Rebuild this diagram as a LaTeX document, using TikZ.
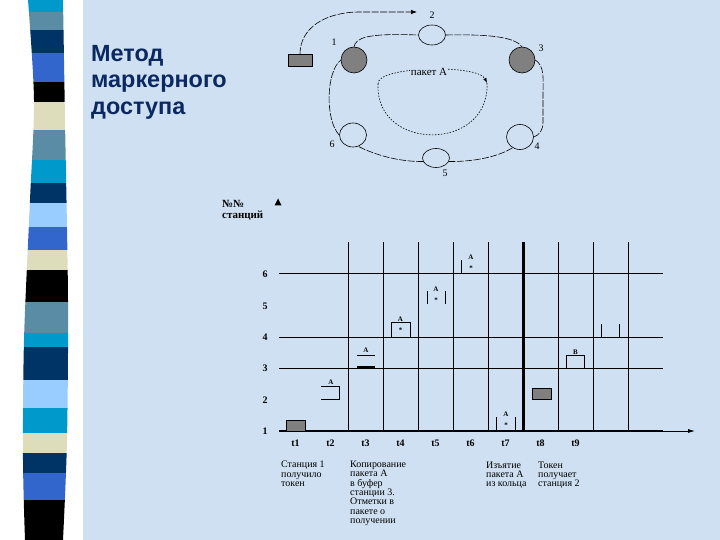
\documentclass[tikz,border=0pt]{standalone}
\usepackage{fontspec}
\setmainfont{Liberation Serif}
\setsansfont{Liberation Sans}
\usepackage{tikz}
\usetikzlibrary{shapes.geometric,arrows.meta,positioning}
\definecolor{slidebg}{RGB}{206,224,242}
\definecolor{titleblue}{RGB}{12,40,96}
\definecolor{tokengray}{RGB}{128,128,128}
\definecolor{stripcyan}{RGB}{0,153,204}
\definecolor{stripsteel}{RGB}{90,140,165}
\definecolor{stripnavy}{RGB}{0,51,102}
\definecolor{striproyal}{RGB}{51,102,204}
\definecolor{stripbeige}{RGB}{221,221,187}
\definecolor{striplight}{RGB}{153,204,255}

\begin{document}
\begin{tikzpicture}[
        x=1bp, y=-1bp,
        title/.style={anchor=north west, align=left, inner sep=0pt, text=titleblue,
            font=\sffamily\bfseries\fontsize{23.5}{26.5}\selectfont},
        busyst/.style={circle, draw, line width=0.6bp, fill=tokengray, inner sep=0pt, minimum size=26bp},
        freest/.style={ellipse, draw, line width=0.6bp, inner sep=0pt, minimum width=27bp, minimum height=#1},
        freest/.default=24bp,
        token/.style={rectangle, draw, line width=0.6bp, fill=tokengray, inner sep=0pt,
            minimum width=#1, minimum height=12bp},
        token/.default=24bp,
        stnum/.style={inner sep=0pt, font=\fontsize{10}{10}\selectfont},
        ring/.style={line width=0.6bp, dash pattern=on 7bp off 1.5bp},
        pktloop/.style={line width=0.6bp, dash pattern=on 1.5bp off 1.5bp},
        pklabel/.style={fill=slidebg, inner sep=1bp, font=\fontsize{11}{11}\selectfont},
        gline/.style={line width=0.8bp},
        axisthick/.style={line width=2bp},
        rowlab/.style={inner sep=0pt, font=\bfseries\fontsize{10}{10}\selectfont},
        pkt/.style={inner sep=0pt, font=\bfseries\fontsize{7}{7}\selectfont},
        caption/.style={anchor=north west, align=left, inner sep=0pt,
            font=\fontsize{10}{9.3}\selectfont},
    ]
        \useasboundingbox (0,0) rectangle (720,540);

        % slide background and left stripes
        \fill[slidebg] (0,0) rectangle (720,540);
        \fill[white] (0,0) rectangle (83,540);
        \begin{scope}
            \clip plot[smooth] coordinates {(28,0) (34,100) (30,200) (24,340) (23,460) (25,540)}
                -- plot[smooth] coordinates {(63,540) (67,440) (68,300) (65,120) (63,0)} -- cycle;
            \fill[stripcyan] (0,0) rectangle (90,12);
            \fill[stripsteel] (0,12) rectangle (90,30);
            \fill[stripnavy] (0,30) rectangle (90,53);
            \fill[striproyal] (0,53) rectangle (90,82);
            \fill[black] (0,82) rectangle (90,102);
            \fill[stripbeige] (0,102) rectangle (90,130);
            \fill[stripsteel] (0,130) rectangle (90,160);
            \fill[stripcyan] (0,160) rectangle (90,183);
            \fill[stripnavy] (0,183) rectangle (90,203);
            \fill[striplight] (0,203) rectangle (90,227);
            \fill[striproyal] (0,227) rectangle (90,250);
            \fill[stripbeige] (0,250) rectangle (90,270);
            \fill[black] (0,270) rectangle (90,302);
            \fill[stripsteel] (0,302) rectangle (90,333);
            \fill[stripcyan] (0,333) rectangle (90,347);
            \fill[stripnavy] (0,347) rectangle (90,380);
            \fill[striplight] (0,380) rectangle (90,408);
            \fill[stripcyan] (0,408) rectangle (90,433);
            \fill[stripbeige] (0,433) rectangle (90,453);
            \fill[stripnavy] (0,453) rectangle (90,473);
            \fill[striproyal] (0,473) rectangle (90,500);
            \fill[black] (0,500) rectangle (90,540);
        \end{scope}

        \node[title] (title) at (91,45) {Метод\\маркерного\\доступа};

        % token ring
        \node[busyst] (s1) at (354,60) {};
        \node[freest=20bp] (s2) at (432,35) {};
        \node[busyst] (s3) at (522,60) {};
        \node[freest=25bp] (s4) at (520,137) {};
        \node[freest=19bp] (s5) at (436,158) {};
        \node[freest=24bp] (s6) at (353,135) {};

        \node[stnum] (n1) at (334,42) {1};
        \node[stnum] (n2) at (432,15) {2};
        \node[stnum] (n3) at (541,48) {3};
        \node[stnum] (n4) at (537,146) {4};
        \node[stnum] (n5) at (445,173) {5};
        \node[stnum] (n6) at (332,144) {6};

        \draw[ring] (s1.north) .. controls (356,38) and (366,33) .. (s2.west);
        \draw[ring] (s2.east) .. controls (495,34) and (515,38) .. (s3.north);
        \draw[ring] (s3.east) .. controls (545,66) and (543,80) .. (543,95) -- (543,122)
            .. controls (543,131) and (539,135) .. (s4.east);
        \draw[ring] (s4.-125) .. controls (500,156) and (475,162) .. (s5.-15);
        \draw[ring] (s5.195) .. controls (400,162) and (375,155) .. (s6.-65);
        \draw[ring] (s6.west) .. controls (325,120) and (326,72) .. (s1.west);

        \node[token] (tok) at (300,60.5) {};
        \coordinate (tokend) at (417,12);
        \draw[ring, -{Latex[length=6bp,width=4.5bp]}] (tok.north) .. controls (300,28) and (325,12) .. (360,12) -- (tokend);

        \coordinate (loopL) at (378,84);
        \coordinate (loopR) at (487,83);
        \draw[pktloop] (loopR) .. controls (490,152) and (375,152) .. (loopL);
        \draw[pktloop, -{Latex[length=5bp,width=3.5bp]}] (loopL) .. controls (376,66) and (478,64) .. (loopR);
        \node[pklabel] (pka) at (429,72) {пакет А};

        % time chart
        \node[anchor=north west, align=left, inner sep=0pt, font=\bfseries\fontsize{11}{11}\selectfont]
            (stlab) at (222,200) {№№\\станций};
        \fill (274.5,205.5) -- (281.5,205.5) -- (278,198.5) -- cycle;

        \draw[gline] (279,273.5) -- (663,273.5);
        \draw[gline] (279,337) -- (663,337);
        \draw[gline] (279,368.5) -- (663,368.5);
        \draw[axisthick] (279,431) -- (663,431);
        \coordinate (xstart) at (662,431);
        \coordinate (xend) at (695,431);
        \draw[gline, -{Latex[length=7bp,width=4bp]}] (xstart) -- (xend);

        \draw[gline] (348,242) -- (348,431);
        \draw[gline] (383,242) -- (383,431);
        \draw[gline] (418,242) -- (418,431);
        \draw[gline] (453,242) -- (453,431);
        \draw[gline] (488,242) -- (488,431);
        \draw[line width=3bp] (523,242) -- (523,431);
        \draw[gline] (558,242) -- (558,431);
        \draw[gline] (593,242) -- (593,431);
        \draw[gline] (628,242) -- (628,431);

        \node[rowlab] (r1) at (265,431) {1};
        \node[rowlab] (r2) at (265,400) {2};
        \node[rowlab] (r3) at (265,368.5) {3};
        \node[rowlab] (r4) at (265,337) {4};
        \node[rowlab] (r5) at (265,306.5) {5};
        \node[rowlab] (r6) at (265,274) {6};

        \node[rowlab] (t1) at (295.5,443.5) {t1};
        \node[rowlab] (t2) at (330.5,443.5) {t2};
        \node[rowlab] (t3) at (365.5,443.5) {t3};
        \node[rowlab] (t4) at (400.5,443.5) {t4};
        \node[rowlab] (t5) at (435.5,443.5) {t5};
        \node[rowlab] (t6) at (470.5,443.5) {t6};
        \node[rowlab] (t7) at (505.5,443.5) {t7};
        \node[rowlab] (t8) at (540.5,443.5) {t8};
        \node[rowlab] (t9) at (575.5,443.5) {t9};

        % packets and token in the chart
        \node[token=19bp, minimum height=11bp] (tok1) at (295.5,425.5) {};

        \draw[gline] (321,386) -- (339,386) -- (339,399) -- (321,399);
        \node[pkt] (pa2) at (331,382.5) {A};

        \node[pkt] (pa3) at (366,350.5) {A};
        \draw[gline] (357,355) -- (375,355);
        \draw[line width=1.6bp] (357,367) -- (375,367);

        \draw[gline] (391,337) -- (391,322) -- (410,322) -- (410,337);
        \node[pkt] (pa4) at (400.5,319) {A};
        \node[pkt] (ps4) at (400.5,330) {*};

        \draw[gline] (427,291) -- (427,304);
        \draw[gline] (445,291) -- (445,304);
        \node[pkt] (pa5) at (436,289) {A};
        \node[pkt] (ps5) at (436,300) {*};

        \draw[gline] (461,260) -- (461,273.5);
        \node[pkt] (pa6) at (471,257) {A};
        \node[pkt] (ps6) at (471,268) {*};

        \draw[gline] (496,417) -- (496,431);
        \draw[gline] (515,417) -- (515,431);
        \node[pkt] (pa7) at (506,414.5) {A};
        \node[pkt] (ps7) at (506,425.5) {*};

        \node[token=19bp, minimum height=11bp] (tok8) at (541.5,394) {};

        \draw[gline] (566,368.5) -- (566,355) -- (584,355) -- (584,368.5);
        \node[pkt] (pb9) at (575.5,352.5) {B};

        \draw[gline] (601,324) -- (601,337);
        \draw[gline] (619,324) -- (619,337);

        % captions under the time axis
        \node[caption] (c1) at (281,461) {Станция 1\\получило\\токен};
        \node[caption] (c3) at (350,461) {Копирование\\пакета А\\в буфер\\станции 3.\\Отметки в\\пакете о\\получении};
        \node[caption] (c7) at (486,461.5) {Изъятие\\пакета А\\из кольца};
        \node[caption] (c8) at (538,461.5) {Токен\\получает\\станция 2};
    \end{tikzpicture}
\end{document}
